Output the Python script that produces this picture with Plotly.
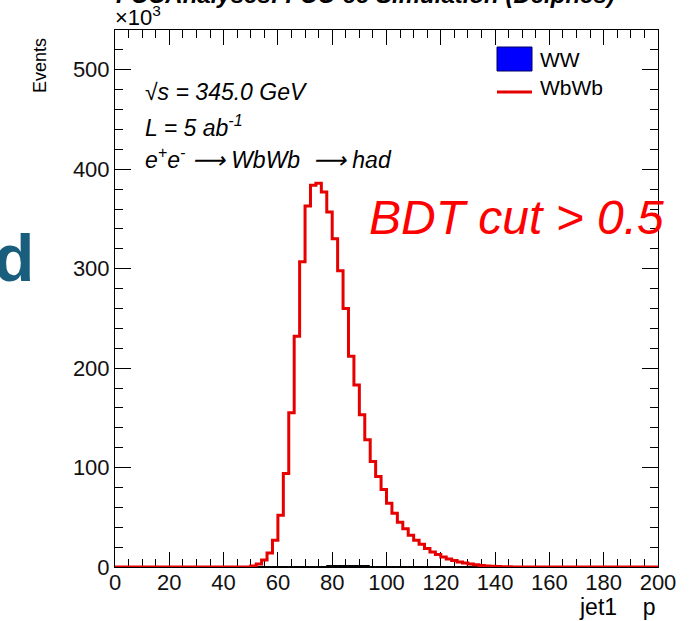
import plotly.graph_objects as go

# ---------------- data (events in units of 10^3) ----------------
bin_edges = list(range(0, 202, 2))  # 100 bins of width 2 from 0 to 200

wbwb_k = ([0.0] * 25 +                       # 0 - 50
          [1.0, 3.0, 7.0, 14.0, 27.0, 52.0, 94.0, 155.0, 232.0, 307.0,   # 50 - 70
           363.0, 384.0, 386.0, 377.0, 357.0, 330.0, 298.0, 260.0, 212.0, 183.0,  # 70 - 90
           153.0, 128.0, 106.0, 91.0, 78.0, 64.0, 54.0, 45.0, 38.5, 32.0,  # 90 - 110
           27.0, 23.0, 18.5, 15.0, 12.5, 10.0, 8.0, 6.5, 5.0, 4.0,          # 110 - 130
           3.0, 2.2, 1.6, 1.1, 0.8, 0.5, 0.3, 0.2] +                        # 130 - 146
          [0.0] * 27)                        # 146 - 200

ww_k = ([0.0] * 35 +
        [0.1, 0.2, 0.3, 0.5, 0.8, 1.0, 1.2, 1.3, 1.2, 1.0,
         0.8, 0.6, 0.5, 0.4, 0.3, 0.2, 0.2, 0.1, 0.1, 0.1, 0.1] +
        [0.0] * 44)

x_ticks = list(range(0, 201, 20))
y_ticks = list(range(0, 501, 100))

title_text = "FCCAnalyses: FCC-ee Simulation (Delphes)"
info_lines = ["√s = 345.0 GeV", "L = 5 ab<sup>-1</sup>",
              "e<sup>+</sup>e<sup>-</sup> ⟶ WbWb  ⟶ had"]
legend_names = ["WW", "WbWb"]

# ---------------- layout geometry ----------------
W, H = 697, 621
ML, MR, MT, MB = 115, 39, 30, 54
PW, PH = W - ML - MR, H - MT - MB
FONT = "Liberation Sans, Arial, Helvetica, sans-serif"


def px(xp):
    return (xp - ML) / PW


def py(yp):
    return (H - MB - yp) / PH


centers = [(bin_edges[i] + bin_edges[i + 1]) / 2 for i in range(len(bin_edges) - 1)]

fig = go.Figure()

fig.add_trace(go.Bar(
    x=centers, y=ww_k, width=2,
    marker=dict(color="#0000ff", line=dict(color="black", width=1)),
    name=legend_names[0], showlegend=False,
))

fig.add_trace(go.Scatter(
    x=bin_edges, y=wbwb_k + [wbwb_k[-1]],
    mode="lines", line=dict(color="#e60000", width=3, shape="hv"),
    name=legend_names[1], showlegend=False,
))

axis_common = dict(
    showgrid=False, zeroline=False, showline=True, linecolor="black", linewidth=1,
    mirror="allticks", ticks="inside", tickcolor="black", tickwidth=1,
    tickfont=dict(family=FONT, size=22, color="#111111"), layer="below traces",
)

fig.update_xaxes(range=[0, 200], tickvals=x_ticks, ticklen=15, ticklabelstandoff=-4,
                 minor=dict(dtick=5, ticks="inside", ticklen=8, tickcolor="black", tickwidth=1),
                 **axis_common)
fig.update_yaxes(range=[0, 540], tickvals=y_ticks, ticklen=16,
                 minor=dict(dtick=20, ticks="inside", ticklen=8, tickcolor="black", tickwidth=1),
                 **axis_common)

ann = []
# title (mostly cropped above the page)
ann.append(dict(text="<b><i>" + title_text + "</i></b>", x=px(114), y=py(-6),
                xanchor="left", yanchor="middle", font=dict(size=24, family=FONT, color="black")))
# exponent label
ann.append(dict(text="×10<sup>3</sup>", x=px(113), y=py(32), xanchor="left", yanchor="bottom",
                font=dict(size=22, family=FONT, color="black")))
# info text
for t, yc in zip(info_lines, [92.5, 125.8, 157.5]):
    ann.append(dict(text="<i>" + t + "</i>", x=px(143), y=py(yc), xanchor="left", yanchor="middle",
                    font=dict(size=23, family=FONT, color="black")))
# BDT label
ann.append(dict(text="<i>BDT cut > 0.5</i>", x=px(367), y=py(218), xanchor="left", yanchor="middle",
                font=dict(size=48, family=FONT, color="#ff0000")))
# legend texts
ann.append(dict(text=legend_names[0], x=px(538), y=py(59), xanchor="left", yanchor="middle",
                font=dict(size=21, family=FONT, color="black")))
ann.append(dict(text=legend_names[1], x=px(538), y=py(87.5), xanchor="left", yanchor="middle",
                font=dict(size=21, family=FONT, color="black")))
# axis titles
ann.append(dict(text="Events", x=px(40), y=py(66), xanchor="center", yanchor="middle", textangle=-90,
                font=dict(size=18, family=FONT, color="black")))
ann.append(dict(text="jet1&nbsp;&nbsp;&nbsp;&nbsp;p", x=px(657), y=py(607), xanchor="right", yanchor="middle",
                font=dict(size=23, family=FONT, color="black")))
# slide fragment at left
ann.append(dict(text="<b>d</b>", x=px(36), y=py(258), xanchor="right", yanchor="middle",
                font=dict(size=66, family=FONT, color="#1a5e7d")))
for a in ann:
    a.update(xref="paper", yref="paper", showarrow=False)

shapes = [
    dict(type="rect", xref="paper", yref="paper", x0=px(497), x1=px(532), y0=py(71), y1=py(47),
         fillcolor="#0000ff", line=dict(color="#000066", width=1)),
    dict(type="line", xref="paper", yref="paper", x0=px(497), x1=px(532), y0=py(92), y1=py(92),
         line=dict(color="#e60000", width=3)),
]

fig.update_layout(
    width=W, height=H, margin=dict(l=ML, r=MR, t=MT, b=MB, pad=0),
    paper_bgcolor="white", plot_bgcolor="white", bargap=0,
    annotations=ann, shapes=shapes, showlegend=False,
)

fig.write_html("out.html")
